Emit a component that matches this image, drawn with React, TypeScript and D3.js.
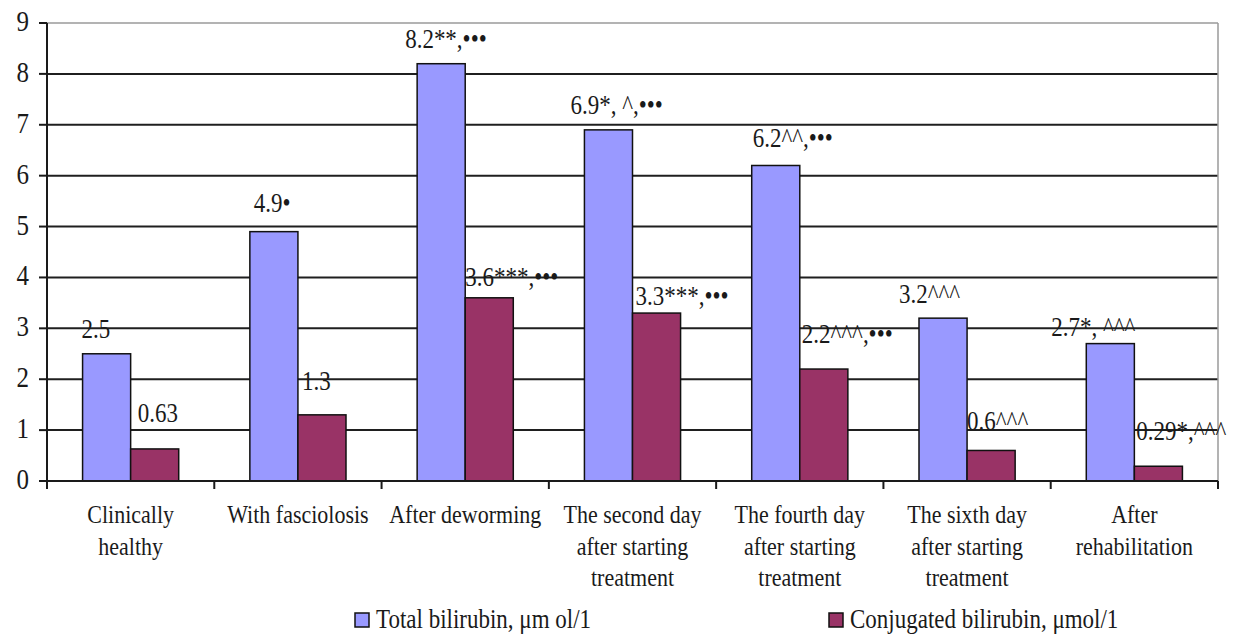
import React from "react";
import * as d3 from "d3";

// Serum bilirubin in sheep at each stage of the study
const categories: string[][] = [
  ["Clinically", "healthy"],
  ["With fasciolosis"],
  ["After deworming"],
  ["The second day", "after starting", "treatment"],
  ["The fourth day", "after starting", "treatment"],
  ["The sixth day", "after starting", "treatment"],
  ["After", "rehabilitation"],
];

const totalBilirubin = [2.5, 4.9, 8.2, 6.9, 6.2, 3.2, 2.7];
const conjugatedBilirubin = [0.63, 1.3, 3.6, 3.3, 2.2, 0.6, 0.29];

const totalMarks = ["", "•", "**,•••", "*, ^,•••", "^^,•••", "^^^", "*, ^^^"];
const conjugatedMarks = ["", "", "***,•••", "***,•••", "^^^,•••", "^^^", "*,^^^"];

const yTicks = [0, 1, 2, 3, 4, 5, 6, 7, 8, 9];

const seriesNames = ["Total bilirubin, μm ol/1", "Conjugated bilirubin, μmol/1"];

// label offsets from the bar's left edge and top, in px
const totalLabelShift: [number, number][] = [
  [-1, -16], [4, -20], [-12, -16], [-14, -16], [1, -18], [-20, -15], [-35, -8],
];
const conjLabelShift: [number, number][] = [
  [7, -27], [4, -25], [0, -12], [3, -8], [2, -26], [0, -20], [2, -26],
];

const W = 1233;
const H = 634;
const FONT = "'Liberation Serif', 'Times New Roman', serif";
const BLUE = "#9999ff";
const MAROON = "#993366";
const SY = 1.18;

function SText(props: {
  x: number;
  y: number;
  size: number;
  anchor?: "start" | "middle" | "end";
  children: React.ReactNode;
}) {
  const { x, y, size, anchor = "start", children } = props;
  return (
    <text
      transform={`translate(${x},${y}) scale(1,${SY})`}
      fontFamily={FONT}
      fontSize={size}
      textAnchor={anchor}
      fill="#1a1a1a"
    >
      {children}
    </text>
  );
}

export default function App() {
  const left = 47;
  const right = 1218;
  const top = 23;
  const bottom = 481;

  const keys = categories.map((c) => c.join(" "));
  const x = d3.scaleBand<string>().domain(keys).range([left, right]).paddingInner(0).paddingOuter(0);
  const xs = d3
    .scaleBand<string>()
    .domain(["total", "conj"])
    .range([0, x.bandwidth()])
    .paddingInner(0)
    .paddingOuter(0.74);
  const y = d3.scaleLinear().domain([0, 9]).range([bottom, top]);

  const bw = xs.bandwidth();

  return (
    <svg
      width={W}
      height={H}
      style={{ position: "absolute", left: 0, top: 0, background: "#fff" }}
    >
      {/* horizontal gridlines */}
      {yTicks.slice(1).map((t) => (
        <line
          key={`g${t}`}
          x1={left}
          x2={right}
          y1={y(t)}
          y2={y(t)}
          stroke={t === 9 ? "#9a9a9a" : "#1f1f1f"}
          strokeWidth={t === 9 ? 1.5 : 2}
        />
      ))}
      {/* right border */}
      <line x1={right} x2={right} y1={top} y2={bottom} stroke="#9a9a9a" strokeWidth={1.5} />

      {/* y axis */}
      <line x1={left} x2={left} y1={top} y2={bottom + 8} stroke="#1a1a1a" strokeWidth={2} />
      {yTicks.map((t) => (
        <g key={`t${t}`}>
          <line x1={left - 8} x2={left} y1={y(t)} y2={y(t)} stroke="#1a1a1a" strokeWidth={2} />
          <SText x={left - 18} y={y(t) + 8} size={25} anchor="end">
            {t}
          </SText>
        </g>
      ))}

      {/* bars */}
      {keys.map((k, i) => {
        const x0 = x(k)!;
        const bx1 = x0 + xs("total")!;
        const bx2 = x0 + xs("conj")!;
        return (
          <g key={`b${i}`}>
            <rect
              x={bx1}
              y={y(totalBilirubin[i])}
              width={bw}
              height={bottom - y(totalBilirubin[i])}
              fill={BLUE}
              stroke="#111"
              strokeWidth={1.5}
            />
            <rect
              x={bx2}
              y={y(conjugatedBilirubin[i])}
              width={bw}
              height={bottom - y(conjugatedBilirubin[i])}
              fill={MAROON}
              stroke="#111"
              strokeWidth={1.5}
            />
          </g>
        );
      })}

      {/* x axis */}
      <line x1={left - 8} x2={right} y1={bottom} y2={bottom} stroke="#1a1a1a" strokeWidth={2} />
      {[...keys.map((k) => x(k)!), right].map((px, i) => (
        <line key={`xt${i}`} x1={px} x2={px} y1={bottom} y2={bottom + 8} stroke="#1a1a1a" strokeWidth={2} />
      ))}

      {/* value labels */}
      {keys.map((k, i) => {
        const x0 = x(k)!;
        const bx1 = x0 + xs("total")!;
        const bx2 = x0 + xs("conj")!;
        const [dx1, dy1] = totalLabelShift[i];
        const [dx2, dy2] = conjLabelShift[i];
        return (
          <g key={`l${i}`}>
            <SText x={bx1 + dx1} y={y(totalBilirubin[i]) + dy1} size={23}>
              {`${totalBilirubin[i]}${totalMarks[i]}`}
            </SText>
            <SText x={bx2 + dx2} y={y(conjugatedBilirubin[i]) + dy2} size={23}>
              {`${conjugatedBilirubin[i]}${conjugatedMarks[i]}`}
            </SText>
          </g>
        );
      })}

      {/* category labels */}
      {categories.map((lines, i) => {
        const cx = x(keys[i])! + x.bandwidth() / 2;
        return (
          <g key={`c${i}`}>
            {lines.map((ln, j) => (
              <SText key={j} x={cx} y={523 + j * 31.5} size={22} anchor="middle">
                {ln}
              </SText>
            ))}
          </g>
        );
      })}

      {/* legend */}
      {seriesNames.map((name, i) => {
        const lx = i === 0 ? 355 : 829;
        return (
          <g key={`lg${i}`}>
            <rect x={lx} y={613} width={14} height={14} fill={i === 0 ? BLUE : MAROON} stroke="#111" strokeWidth={1.5} />
            <SText x={lx + 21} y={628} size={23}>
              {name}
            </SText>
          </g>
        );
      })}
    </svg>
  );
}
